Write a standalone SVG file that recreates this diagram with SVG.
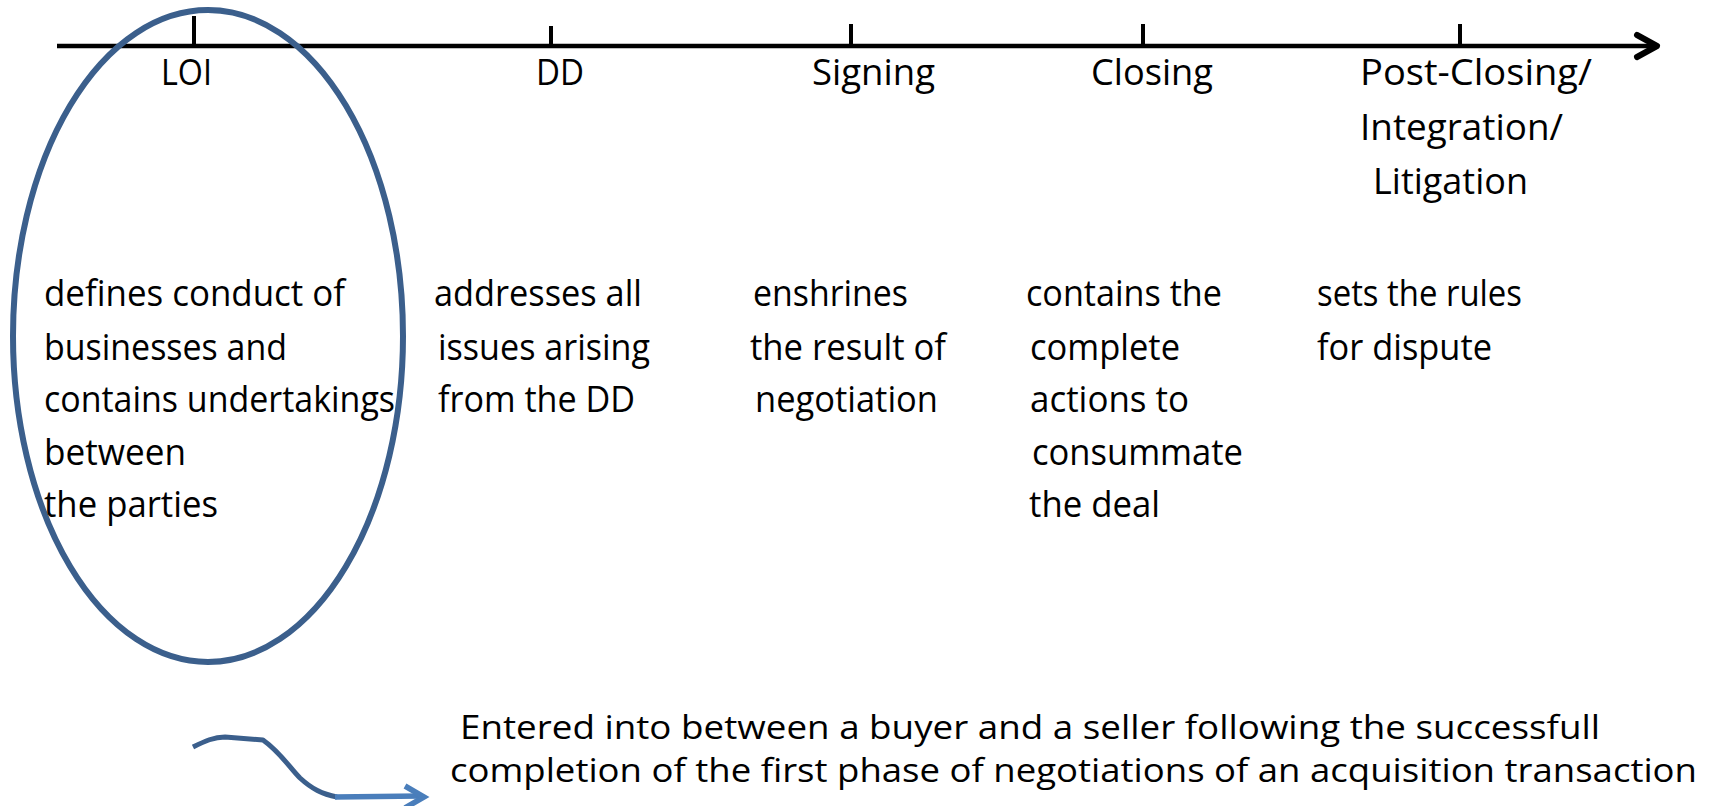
<svg xmlns="http://www.w3.org/2000/svg" width="1711" height="806" viewBox="0 0 1711 806">
  <style>
    text { font-family: "Open Sans", "Noto Sans", sans-serif; fill: #000; }
    .hdr { font-size: 37px; }
    .body { font-size: 37px; }
    .note { font-size: 32px; }
    .axis { stroke: #000; stroke-width: 4.5; fill: none; }
    .head { stroke: #000; stroke-width: 6; fill: none; stroke-linecap: round; stroke-linejoin: round; }
    .tick { stroke: #000; stroke-width: 4; }
    .hl { stroke: #3b5f8c; stroke-width: 6; fill: none; }
    .curl { stroke: #3b5f8c; stroke-width: 5; fill: none; stroke-linejoin: round; }
    .point { stroke: #4a7ebb; stroke-width: 5.5; fill: none; }
  </style>

  <!-- timeline axis, ticks and the pointer to the note -->
  <g id="connectors">
    <line class="axis" x1="57" y1="46" x2="1654" y2="46"/>
    <polyline class="head" points="1637,35 1657,46 1637,57"/>
    <line class="tick" x1="194" y1="16" x2="194" y2="46"/>
    <line class="tick" x1="551" y1="26" x2="551" y2="46"/>
    <line class="tick" x1="851" y1="24" x2="851" y2="46"/>
    <line class="tick" x1="1143" y1="24" x2="1143" y2="46"/>
    <line class="tick" x1="1460" y1="24" x2="1460" y2="46"/>
    <path class="curl" d="M193,747 C205,741 214,737 225,737 L263,740 C280,752 290,768 300,778 C312,789 322,794 337,797"/>
    <path class="point" d="M335,797 L421,796"/>
    <polyline class="point" points="405,786 424,797 405,808"/>
  </g>

  <g id="loi">
    <ellipse class="hl" cx="208" cy="336" rx="195" ry="326"/>
    <text class="hdr" x="161" y="85" textLength="51" lengthAdjust="spacingAndGlyphs">LOI</text>
    <text class="body" x="44" y="306" textLength="301" lengthAdjust="spacingAndGlyphs">defines conduct of</text>
    <text class="body" x="44" y="360" textLength="243" lengthAdjust="spacingAndGlyphs">businesses and</text>
    <text class="body" x="44" y="412" textLength="351" lengthAdjust="spacingAndGlyphs">contains undertakings</text>
    <text class="body" x="44" y="465" textLength="142" lengthAdjust="spacingAndGlyphs">between</text>
    <text class="body" x="44" y="517" textLength="174" lengthAdjust="spacingAndGlyphs">the parties</text>
  </g>

  <g id="dd">
    <text class="hdr" x="536" y="85" textLength="48" lengthAdjust="spacingAndGlyphs">DD</text>
    <text class="body" x="434" y="306" textLength="208" lengthAdjust="spacingAndGlyphs">addresses all</text>
    <text class="body" x="438" y="360" textLength="212" lengthAdjust="spacingAndGlyphs">issues arising</text>
    <text class="body" x="438" y="412" textLength="197" lengthAdjust="spacingAndGlyphs">from the DD</text>
  </g>

  <g id="signing">
    <text class="hdr" x="812" y="85" textLength="123" lengthAdjust="spacingAndGlyphs">Signing</text>
    <text class="body" x="753" y="306" textLength="155" lengthAdjust="spacingAndGlyphs">enshrines</text>
    <text class="body" x="750" y="360" textLength="196" lengthAdjust="spacingAndGlyphs">the result of</text>
    <text class="body" x="755" y="412" textLength="183" lengthAdjust="spacingAndGlyphs">negotiation</text>
  </g>

  <g id="closing">
    <text class="hdr" x="1091" y="85" textLength="122" lengthAdjust="spacingAndGlyphs">Closing</text>
    <text class="body" x="1026" y="306" textLength="196" lengthAdjust="spacingAndGlyphs">contains the</text>
    <text class="body" x="1030" y="360" textLength="150" lengthAdjust="spacingAndGlyphs">complete</text>
    <text class="body" x="1030" y="412" textLength="159" lengthAdjust="spacingAndGlyphs">actions to</text>
    <text class="body" x="1032" y="465" textLength="211" lengthAdjust="spacingAndGlyphs">consummate</text>
    <text class="body" x="1029" y="517" textLength="131" lengthAdjust="spacingAndGlyphs">the deal</text>
  </g>

  <g id="post-closing">
    <text class="hdr" x="1360" y="85" textLength="232" lengthAdjust="spacingAndGlyphs">Post-Closing/</text>
    <text class="hdr" x="1360" y="140" textLength="203" lengthAdjust="spacingAndGlyphs">Integration/</text>
    <text class="hdr" x="1373" y="194" textLength="155" lengthAdjust="spacingAndGlyphs">Litigation</text>
    <text class="body" x="1317" y="306" textLength="205" lengthAdjust="spacingAndGlyphs">sets the rules</text>
    <text class="body" x="1317" y="360" textLength="175" lengthAdjust="spacingAndGlyphs">for dispute</text>
  </g>

  <g id="note">
    <text class="note" x="460" y="739" textLength="1140" lengthAdjust="spacingAndGlyphs">Entered into between a buyer and a seller following the successfull</text>
    <text class="note" x="450" y="782" textLength="1247" lengthAdjust="spacingAndGlyphs">completion of the first phase of negotiations of an acquisition transaction</text>
  </g>
</svg>
